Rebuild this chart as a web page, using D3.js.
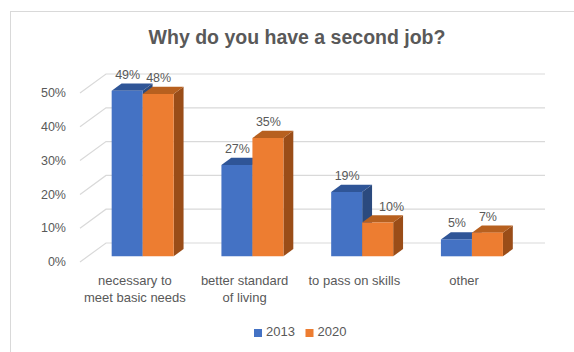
<!DOCTYPE html>
<html>
<head>
<meta charset="utf-8">
<script src="https://cdn.jsdelivr.net/npm/d3@7"></script>
<style>
  html, body { margin: 0; padding: 0; background: #fff; }
  svg { display: block; }
  text { font-family: "Liberation Sans", Arial, sans-serif; fill: #595959; }
</style>
</head>
<body>
<svg id="chart" width="574" height="352"></svg>
<script>
// Survey answers, share of respondents
const categories = [
  ["necessary to", "meet basic needs"],
  ["better standard", "of living"],
  ["to pass on skills"],
  ["other"]
];
const seriesNames = ["2013", "2020"];
const values2013 = [0.49, 0.27, 0.19, 0.05];
const values2020 = [0.48, 0.35, 0.10, 0.07];
const tickValues = [0, 0.1, 0.2, 0.3, 0.4, 0.5];
const titleText = "Why do you have a second job?";

const seriesValues = [values2013, values2020];
const colors = {
  front: ["#4472C4", "#ED7D31"],
  top:   ["#2F5597", "#B7601F"],
  side:  ["#2B4A7E", "#9A4D18"]
};

const svg = d3.select("#chart");

// Chart frame
svg.append("rect")
  .attr("x", 10.5).attr("y", 11.5)
  .attr("width", 620).attr("height", 400)
  .attr("fill", "none").attr("stroke", "#d9d9d9");

// Title
svg.append("text")
  .attr("x", 297).attr("y", 44)
  .attr("text-anchor", "middle")
  .style("font-size", "19.5px").style("font-weight", "bold")
  .text(titleText);

// Oblique projection: x along the front floor edge, value up, z into depth [0..1]
const depth = { dx: 26, dy: -19 };
const catIdx = categories.map((c, i) => i);
const x0 = d3.scaleBand().domain(catIdx).range([80, 519]);
const x1 = d3.scaleBand().domain(seriesNames).range([0, x0.bandwidth()]).paddingOuter(0.77);
const y = d3.scaleLinear().domain([0, 0.5]).range([262, 93]);
const proj = (x, v, z) => [x + depth.dx * z, y(v) + depth.dy * z];

// Walls: back gridlines and side-wall diagonals
const grid = svg.append("g").attr("stroke", "#d9d9d9").attr("stroke-width", 1.2).attr("fill", "none");
const [xL, xR] = x0.range();
tickValues.forEach(t => {
  const a = proj(xL, t, 0), b = proj(xL, t, 1), c = proj(xR, t, 1);
  grid.append("path").attr("d", d3.line()([a, b, c]));
});

// Tick labels
svg.append("g").selectAll("text")
  .data(tickValues).join("text")
  .attr("x", 66).attr("y", d => y(d) + 1)
  .attr("text-anchor", "end")
  .attr("dominant-baseline", "middle")
  .style("font-size", "12.5px")
  .text(d3.format(".0%"));

// 3D bars
const z0 = 0.3, z1 = 0.68;
const bars = svg.append("g");
const labels = svg.append("g");
const pct = d3.format(".0%");
catIdx.forEach(ci => {
  seriesNames.forEach((s, si) => {
    const v = seriesValues[si][ci];
    const xa = x0(ci) + x1(s), xb = xa + x1.bandwidth();
    const poly = pts => "M" + pts.map(p => p.join(",")).join("L") + "Z";
    const front = [proj(xa, 0, z0), proj(xa, v, z0), proj(xb, v, z0), proj(xb, 0, z0)];
    const top = [proj(xa, v, z0), proj(xa, v, z1), proj(xb, v, z1), proj(xb, v, z0)];
    const side = [proj(xb, 0, z0), proj(xb, v, z0), proj(xb, v, z1), proj(xb, 0, z1)];
    bars.append("path").attr("d", poly(side)).attr("fill", colors.side[si]);
    bars.append("path").attr("d", poly(top)).attr("fill", colors.top[si]);
    bars.append("path").attr("d", poly(front)).attr("fill", colors.front[si]);

    const fc = proj((xa + xb) / 2, v, z0);
    const lbl = labels.append("text")
      .attr("y", fc[1] - 12)
      .style("font-size", "12.5px")
      .text(pct(v));
    // If the bar to the left rises above this label, nudge it clear of that bar's side
    const prevV = si > 0 ? seriesValues[si - 1][ci] : 0;
    if (si > 0 && y(prevV) < fc[1] - 20) {
      const clearX = proj(xa, 0, z1)[0] + 7;
      lbl.attr("x", clearX).attr("text-anchor", "start");
    } else {
      lbl.attr("x", fc[0] + 0.5).attr("text-anchor", "middle");
    }
  });
});

// Category labels
const catG = svg.append("g");
categories.forEach((lines, ci) => {
  const cx = x0(ci) + x0.bandwidth() / 2;
  const t = catG.append("text")
    .attr("x", cx)
    .attr("y", 285)
    .attr("text-anchor", "middle")
    .style("font-size", "13px");
  lines.forEach((ln, li) => {
    t.append("tspan")
      .attr("x", cx)
      .attr("dy", li === 0 ? 0 : 17)
      .text(ln);
  });
});

// Legend
const legend = svg.append("g");
const legendX = [254, 305.5];
seriesNames.forEach((s, si) => {
  legend.append("rect")
    .attr("x", legendX[si]).attr("y", 329)
    .attr("width", 8).attr("height", 8)
    .attr("fill", colors.front[si]);
  legend.append("text")
    .attr("x", legendX[si] + 12).attr("y", 333)
    .attr("dominant-baseline", "middle")
    .style("font-size", "13px")
    .text(s);
});
</script>
</body>
</html>
